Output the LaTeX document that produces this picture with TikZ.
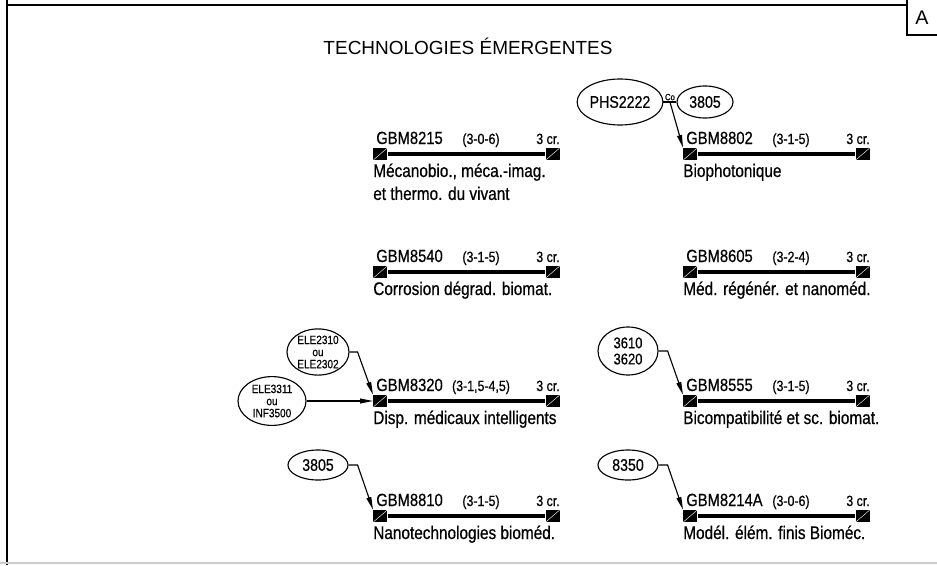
\documentclass[tikz,border=0pt]{standalone}
\usepackage{fontspec}
\setmainfont{Liberation Sans}[FakeStretch=0.84, FakeBold=0.6]
\newfontfamily\titlefont{Liberation Sans}
\usetikzlibrary{arrows.meta, shapes.geometric, calc}

\tikzset{
    endbox/.style={fill=black, minimum width=0.35cm, minimum height=0.3cm, inner sep=0pt,
        path picture={\draw[white, line width=0.3pt] (path picture bounding box.south west) -- (path picture bounding box.north east);}},
    barline/.style={line width=2.6pt},
    codetext/.style={font=\fontsize{12.5}{14}\selectfont, inner sep=0pt},
    hourtext/.style={font=\fontsize{10.5}{12}\selectfont, inner sep=0pt},
    desctext/.style={font=\fontsize{13}{16.3}\selectfont, inner sep=0pt},
    prereq/.style={draw, ellipse, line width=0.8pt, inner sep=0pt, align=center, font=\fontsize{12}{13}\selectfont},
    smallprereq/.style={prereq, font=\fontsize{8.5}{8.6}\selectfont},
    arrowline/.style={line width=0.8pt, -{Triangle[length=3.2mm,width=1.2mm]}}
}

% One course: name, left end of the bar, code, hours, description
\newcommand{\coursebar}[6]{%
    \node[endbox, anchor=west] (#1l) at (#2,#3) {};
    \node[endbox, anchor=east] (#1r) at (#2+\barLength,#3) {};
    \draw[barline] (#1l.east) -- (#1r.west);
    \node[codetext, anchor=base west] (#1c) at (#2+3,#3-10) {#4};
    \node[hourtext, anchor=base] (#1h) at (#2+108,#3-10) {#5};
    \node[hourtext, anchor=base east] (#1k) at (#2+\barLength,#3-10) {3 cr.};
    \node[desctext, anchor=base west] (#1d) at (#2,#3+23) {\begin{tabular}[t]{@{}l@{}}#6\end{tabular}};
}

\begin{document}
\begin{tikzpicture}[x=0.025cm, y=-0.025cm]
    % Define bar length (pixels)
    \def\barLength{187}

    \useasboundingbox (0,0) rectangle (937,565);

    % Draw frame
    \draw[line width=2pt] (7,0) -- (7,565);
    \draw[line width=1.5pt] (7,5) -- (907,5);
    \draw[line width=0.9pt] (907,0) -- (907,35) -- (937,35);
    \draw[gray!40, line width=1.5pt] (0,563) -- (937,563);
    \node[font=\titlefont\fontsize{14}{16}\selectfont] (sheet) at (922,18) {A};

    % Title
    \node[font=\titlefont\fontsize{13.5}{16}\selectfont, anchor=base] (title) at (468,55) {TECHNOLOGIES ÉMERGENTES};

    % Left column
    \coursebar{s8215}{373}{154}{GBM8215}{(3-0-6)}{Mécanobio., méca.-imag.\\et thermo. du vivant}
    \coursebar{s8540}{373}{272}{GBM8540}{(3-1-5)}{Corrosion dégrad. biomat.}
    \coursebar{s8320}{373}{401}{GBM8320}{(3-1,5-4,5)}{Disp. médicaux intelligents}
    \coursebar{s8810}{373}{516}{GBM8810}{(3-1-5)}{Nanotechnologies bioméd.}

    % Right column
    \coursebar{s8802}{683}{154}{GBM8802}{(3-1-5)}{Biophotonique}
    \coursebar{s8605}{683}{272}{GBM8605}{(3-2-4)}{Méd. régénér. et nanoméd.}
    \coursebar{s8555}{683}{401}{GBM8555}{(3-1-5)}{Bicompatibilité et sc. biomat.}
    \coursebar{s8214}{683}{516}{GBM8214A}{(3-0-6)}{Modél. élém. finis Bioméc.}

    % Prerequisites
    \node[prereq, minimum width=1.78cm, minimum height=1.15cm] (phs2222) at (620,102) {PHS2222};
    \node[prereq, minimum width=1.4cm, minimum height=0.8cm] (r3805) at (705,102) {3805};
    \node[smallprereq, minimum width=1.55cm, minimum height=1.15cm] (ele2310) at (318,352) {ELE2310\\ou\\ELE2302};
    \node[smallprereq, minimum width=1.7cm, minimum height=1.22cm] (ele3311) at (272,401) {ELE3311\\ou\\INF3500};
    \node[prereq, minimum width=1.5cm, minimum height=0.75cm] (l3805) at (318,465) {3805};
    \node[prereq, font=\fontsize{11}{11.5}\selectfont, minimum width=1.5cm, minimum height=1.2cm] (r3610) at (628,351) {3610\\3620};
    \node[prereq, minimum width=1.5cm, minimum height=0.75cm] (r8350) at (628,465) {8350};

    % Co-requisite link
    \draw[line width=0.8pt] (phs2222.east) -- (r3805.west);
    \coordinate (co) at ($(phs2222.east)!0.5!(r3805.west)$);
    \node[font=\fontsize{6.5}{7}\selectfont, inner sep=1pt, anchor=south] (colabel) at (co) {Co};

    % Draw arrows
    \draw[arrowline] (co) -- (s8802l.north west);
    \draw[arrowline] (ele2310.east) -- ++(8,0) -- (s8320l.north west);
    \draw[arrowline] (ele3311.east) -- (s8320l.west);
    \draw[arrowline] (l3805.east) -- ++(9,0) -- (s8810l.north west);
    \draw[arrowline] (r3610.east) -- ++(9,0) -- (s8555l.north west);
    \draw[arrowline] (r8350.east) -- ++(9,0) -- (s8214l.north west);

\end{tikzpicture}
\end{document}
